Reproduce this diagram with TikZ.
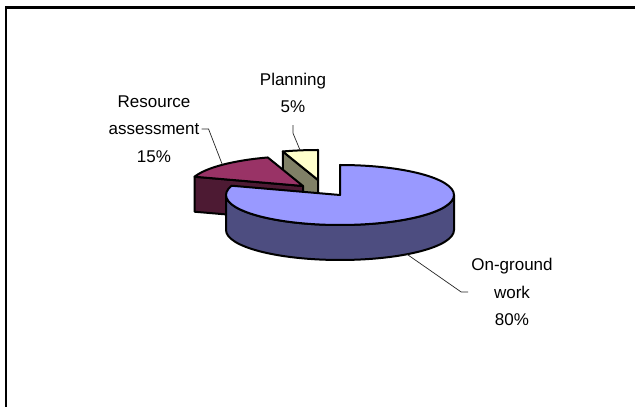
\documentclass[tikz,border=0pt]{standalone}
\usepackage{fontspec}
\setmainfont{Liberation Sans}
\usetikzlibrary{calc}
\definecolor{blueTop}{HTML}{9999FF}
\definecolor{blueSide}{HTML}{4D4D80}
\definecolor{raTop}{HTML}{993366}
\definecolor{raSide}{HTML}{4D1A33}
\definecolor{plTop}{HTML}{FFFFCC}
\definecolor{plSide}{HTML}{808066}
\begin{document}
\begin{tikzpicture}[x=1pt,y=1pt,
  piece/.style={draw=black, line width=2pt, line join=round},
  leader/.style={draw=black!85, line width=0.7pt},
  lbl/.style={font=\fontsize{17}{27.5}\selectfont, align=center, inner sep=0pt},
  ell/.style={x radius=114pt, y radius=30pt}]
\useasboundingbox (0,0) rectangle (635,407);
\fill[white] (0,0) rectangle (635,407);
\draw[line width=2.2pt] (6,0) -- (6,399.5) -- (635,399.5);

% Planning slice (5%)
\coordinate (P) at (318,227);
\coordinate (P90) at ($(P)+(90:114pt and 30pt)$);
\coordinate (P108) at ($(P)+(108:114pt and 30pt)$);
\coordinate (Pm) at ($(P)+(99:114pt and 30pt)$);
\filldraw[piece, fill=plSide] (P) -- (P108) -- ++(0,-35) -- ($(P)+(0,-35)$) -- cycle;
\filldraw[piece, fill=plTop] (P) -- (P90) arc[start angle=90, end angle=108, ell] -- cycle;

% Resource assessment slice (15%)
\coordinate (Q) at (303,221);
\coordinate (Q108) at ($(Q)+(108:114pt and 30pt)$);
\coordinate (Q162) at ($(Q)+(162:114pt and 30pt)$);
\coordinate (Qm) at ($(Q)+(135:114pt and 30pt)$);
\filldraw[piece, fill=raSide] (Q) -- (Q162) -- ++(0,-35) -- ($(Q)+(0,-35)$) -- cycle;
\filldraw[piece, fill=raTop] (Q) -- (Q108) arc[start angle=108, end angle=162, ell] -- cycle;

% On-ground work slice (80%)
\coordinate (C) at (340,212);
\coordinate (C0) at ($(C)+(0:114pt and 30pt)$);
\coordinate (C90) at ($(C)+(90:114pt and 30pt)$);
\coordinate (Cm) at ($(C)+(-54:114pt and 30pt)+(0,-35)$);
\filldraw[piece, fill=blueSide] (C0) arc[start angle=0, end angle=-180, ell] -- ++(0,-35) arc[start angle=180, end angle=360, ell] -- cycle;
\filldraw[piece, fill=blueTop] (C) -- (C90) arc[start angle=90, end angle=-198, ell] -- cycle;

% Labels
\node[lbl] (pl) at (293,314) {Planning\\5\%};
\node[lbl] (ra) at (154,278) {Resource\\assessment\\15\%};
\node[lbl] (og) at (512,115) {On-ground\\work\\80\%};

% Leaders
\draw[leader] ([xshift=2pt]ra.east) -- ++(7,0) -- (Qm);
\draw[leader] ([yshift=-12pt]pl.south) -- ++(0,-8) -- (Pm);
\draw[leader] (Cm) -- ([xshift=-10pt]og.west) -- ([xshift=-3pt]og.west);
\end{tikzpicture}
\end{document}
